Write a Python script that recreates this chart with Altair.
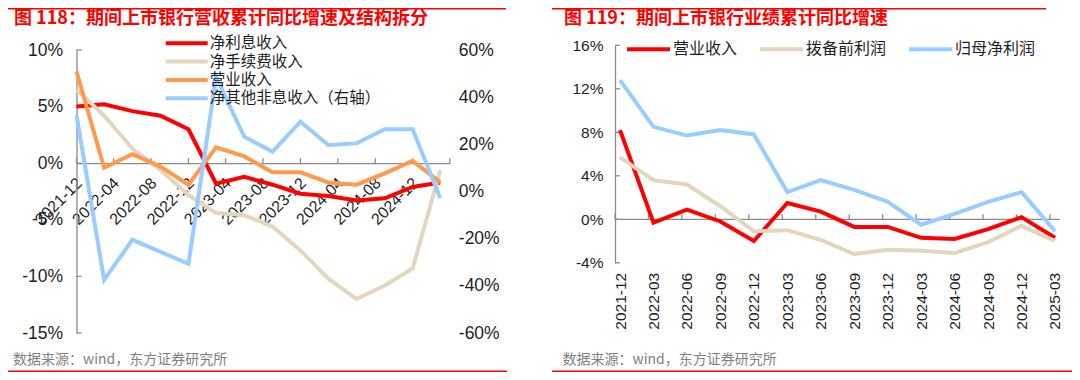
import altair as alt
import pandas as pd

# ---------------- data ----------------
periods = ["2021-12", "2022-03", "2022-06", "2022-09", "2022-12", "2023-03", "2023-06",
           "2023-09", "2023-12", "2024-03", "2024-06", "2024-09", "2024-12", "2025-03"]

# 图118 (left panel), %
l_net_interest = [5.0, 5.2, 4.6, 4.2, 3.0, -1.8, -1.2, -1.9, -2.7, -2.9, -3.3, -3.1, -2.1, -1.7]
l_net_fee = [6.5, 4.2, 1.3, -0.6, -2.8, -4.4, -4.6, -5.6, -7.7, -10.2, -12.0, -10.8, -9.3, -0.6]
l_revenue = [8.1, -0.4, 0.8, -0.3, -1.9, 1.4, 0.6, -0.8, -0.8, -1.7, -1.9, -0.9, 0.2, -1.7]
l_other_nonint = [32.4, -37.5, -20.5, -25.6, -30.7, 48.6, 23.2, 16.9, 29.6, 19.7, 20.4, 26.4, 26.4, -2.9]
left_series = ["净利息收入", "净手续费收入", "营业收入", "净其他非息收入（右轴）"]
left_xticks = ["2021-12", "2022-04", "2022-08", "2022-12", "2023-04", "2023-08",
               "2023-12", "2024-04", "2024-08", "2024-12"]
left_xtick_marks = left_xticks + ["2025-04"]
left_yticks = [-15, -10, -5, 0, 5, 10]
left_y2ticks = [-60, -40, -20, 0, 20, 40, 60]

# 图119 (right panel), %
r_revenue = [8.2, -0.3, 0.9, -0.2, -2.0, 1.5, 0.7, -0.7, -0.7, -1.7, -1.8, -0.9, 0.2, -1.7]
r_ppop = [5.7, 3.6, 3.2, 1.2, -1.1, -1.0, -1.9, -3.2, -2.8, -2.9, -3.1, -2.1, -0.6, -2.0]
r_netprofit = [12.8, 8.5, 7.7, 8.2, 7.8, 2.5, 3.6, 2.7, 1.6, -0.5, 0.5, 1.6, 2.5, -1.1]
right_series = ["营业收入", "拨备前利润", "归母净利润"]
right_yticks = [-4, 0, 4, 8, 12, 16]

title_left = "图 118：期间上市银行营收累计同比增速及结构拆分"
title_right = "图 119：期间上市银行业绩累计同比增速"
source_text = "数据来源：wind，东方证券研究所"

# ---------------- tables ----------------
dates = [p + "-01" for p in periods]
dfL = pd.DataFrame({
    "series": [s for s in left_series[:3] for _ in periods],
    "date": dates * 3,
    "value": l_net_interest + l_net_fee + l_revenue,
})
dfL2 = pd.DataFrame({"series": left_series[3], "date": dates, "value": l_other_nonint})
dfR = pd.DataFrame({
    "series": [s for s in right_series for _ in periods],
    "period": periods * 3,
    "value": r_revenue + r_ppop + r_netprofit,
})

# ---------------- styling ----------------
W, H = 1064, 364
NUM = "Liberation Sans"
CJK = "Noto Sans CJK SC"
AX = "#8a8a8a"
TXT = "#1e1e1e"
RED = "#FF0000"
BEIGE = "#E2D6BE"
ORANGE = "#FF994D"
BLUE = "#99CCFF"


def dt(s):
    y, m = s.split("-")
    return alt.DateTime(year=int(y), month=int(m), date=1, utc=True)


# left panel geometry (plot coords)
L_X0, L_X1 = 68.5, 441.8
L_YB, L_YT = 325, 42
L_ZERO = L_YB - (0 - (-15)) / 25 * (L_YB - L_YT)
# right panel geometry
R_X0, R_X1 = 607, 1052
R_YB, R_YT = 254.8, 37.3

xL = alt.Scale(type="utc", domain=[dt("2021-12"), dt("2025-04")], range=[L_X0, L_X1])
yL = alt.Scale(domain=[-15, 10], range=[L_YB, L_YT], nice=False, zero=False)
yL2 = alt.Scale(domain=[-60, 60], range=[L_YB, L_YT], nice=False, zero=False)
xR = alt.Scale(type="point", domain=periods, range=[R_X0, R_X1], padding=0.15)
yR = alt.Scale(domain=[-4, 16], range=[R_YB, R_YT], nice=False, zero=False)

common = dict(grid=False, title=None, labelFont=NUM, labelColor=TXT, domainColor=AX,
              domainWidth=1.3, ticks=False, tickSize=0, zindex=0, labelOverlap=False)

axXL = alt.Axis(orient="bottom", offset=L_ZERO - H, values=[dt(s) for s in left_xticks],
                labelExpr="utcFormat(datum.value, '%Y-%m')", labelAngle=-45,
                labelAlign="right", labelBaseline="middle", labelPadding=17, labelOffset=2.5,
                labelFlush=False, labelFontSize=16, **common)
axYL = alt.Axis(orient="left", offset=-L_X0, values=left_yticks,
                labelExpr="datum.value + '%'", labelPadding=14, labelFontSize=17.5, **common)
axYL2 = alt.Axis(orient="right", offset=-(W - L_X1), values=left_y2ticks, domain=False,
                 labelExpr="datum.value + '%'", labelPadding=8.5, labelFontSize=17.5,
                 labelAlign="left", **common)
axXR = alt.Axis(orient="bottom", offset=R_YB - H, values=periods, domain=False,
                labelAngle=-90, labelAlign="right", labelBaseline="middle",
                labelPadding=9.5, labelFontSize=15.5, **common)
axYR = alt.Axis(orient="left", offset=-R_X0, values=right_yticks,
                labelExpr="datum.value + '%'", labelPadding=12, labelFontSize=15.5, **common)

colL = alt.Scale(domain=left_series, range=[RED, BEIGE, ORANGE, BLUE])
colR = alt.Scale(domain=right_series, range=[RED, BEIGE, BLUE])

legL = alt.Legend(orient="none", legendX=155.7, legendY=26.3, direction="vertical", title=None,
                  symbolType="stroke", symbolSize=1764, symbolStrokeWidth=4, clipHeight=18,
                  rowPadding=0.3, labelOffset=0, labelFont=CJK, labelFontSize=15.5,
                  labelColor=TXT, padding=0, labelLimit=400)
legR = alt.Legend(orient="none", legendX=617, legendY=32.3, direction="horizontal", title=None,
                  symbolType="stroke", symbolSize=1849, symbolStrokeWidth=4, clipHeight=18,
                  columnPadding=20, labelOffset=1, labelFont=CJK, labelFontSize=16,
                  labelColor=TXT, padding=0, labelLimit=400)

# ---------------- left panel ----------------
linesL = alt.Chart(dfL).mark_line(strokeWidth=4).encode(
    x=alt.X("date:T", scale=xL, axis=axXL),
    y=alt.Y("value:Q", scale=yL, axis=axYL),
    color=alt.Color("series:N", scale=colL, legend=legL),
)
xticksL = alt.Chart(pd.DataFrame({"date": [s + "-01" for s in left_xtick_marks]})).mark_rule(
    color=AX, strokeWidth=1.3, y2Offset=-5).encode(
    x=alt.X("date:T", scale=xL, axis=axXL),
    y=alt.YDatum(0, type="quantitative", scale=yL, axis=axYL),
    y2=alt.Y2Datum(0),
)
yticksL = alt.Chart(pd.DataFrame({"v": left_yticks})).mark_rule(color=AX, strokeWidth=1.3).encode(
    x=alt.value(L_X0), x2=alt.value(L_X0 + 5),
    y=alt.Y("v:Q", scale=yL, axis=axYL),
)
leftMain = alt.layer(xticksL, yticksL, linesL)
blueL = alt.Chart(dfL2).mark_line(strokeWidth=4).encode(
    x=alt.X("date:T", scale=xL, axis=axXL),
    y=alt.Y("value:Q", scale=yL2, axis=axYL2),
    color=alt.Color("series:N", scale=colL, legend=legL),
)
leftPanel = alt.layer(leftMain, blueL).resolve_scale(y="independent")

# ---------------- right panel ----------------
zeroR = alt.Chart(pd.DataFrame({"k": [0]})).mark_rule(color=AX, strokeWidth=1.3).encode(
    x=alt.value(R_X0), x2=alt.value(R_X1),
    y=alt.YDatum(0, type="quantitative", scale=yR, axis=axYR),
)
xticksR = alt.Chart(pd.DataFrame({"period": periods})).mark_rule(
    color=AX, strokeWidth=1.3, xOffset=-5, y2Offset=-5).encode(
    x=alt.X("period:O", scale=xR, axis=axXR),
    y=alt.YDatum(0, type="quantitative", scale=yR, axis=axYR),
    y2=alt.Y2Datum(0),
)
yticksR = alt.Chart(pd.DataFrame({"v": right_yticks})).mark_rule(color=AX, strokeWidth=1.3).encode(
    x=alt.value(R_X0), x2=alt.value(R_X0 + 5),
    y=alt.Y("v:Q", scale=yR, axis=axYR),
)
linesR = alt.Chart(dfR).mark_line(strokeWidth=4).encode(
    x=alt.X("period:O", scale=xR, axis=axXR, sort=periods),
    y=alt.Y("value:Q", scale=yR, axis=axYR),
    color=alt.Color("series:N", scale=colR, legend=legR),
)
rightPanel = alt.layer(zeroR, xticksR, yticksR, linesR)


# ---------------- decorations ----------------
def text_mark(txt, x, y, size, color, weight="normal"):
    return alt.Chart(pd.DataFrame({"t": [txt]})).mark_text(
        align="left", baseline="middle", font=CJK, fontSize=size, fontWeight=weight,
        color=color).encode(text="t:N", x=alt.value(x), y=alt.value(y))


def hline(x0, x1, y, width=1.4):
    return alt.Chart(pd.DataFrame({"k": [0]})).mark_rule(color=RED, strokeWidth=width).encode(
        x=alt.value(x0), x2=alt.value(x1), y=alt.value(y))


decor = [
    hline(0, 498, 0.8), hline(544, 1038, 0.8),
    hline(0, 499, 363.2), hline(544, 1064, 363.2),
    text_mark(title_left, 6, 11, 18, RED, "bold"),
    text_mark(title_right, 556, 11, 18, RED, "bold"),
    text_mark(source_text, 5, 352, 14, "#808080"),
    text_mark(source_text, 554.5, 352, 14, "#808080"),
]

chart = alt.layer(leftPanel, rightPanel, *decor).resolve_scale(
    x="independent", y="independent", color="independent"
).properties(
    width=W, height=H, autosize=alt.AutoSizeParams(type="none"), padding=0
).configure_view(stroke=None)

chart.save("out.html", embed_options={"renderer": "svg", "actions": False})
